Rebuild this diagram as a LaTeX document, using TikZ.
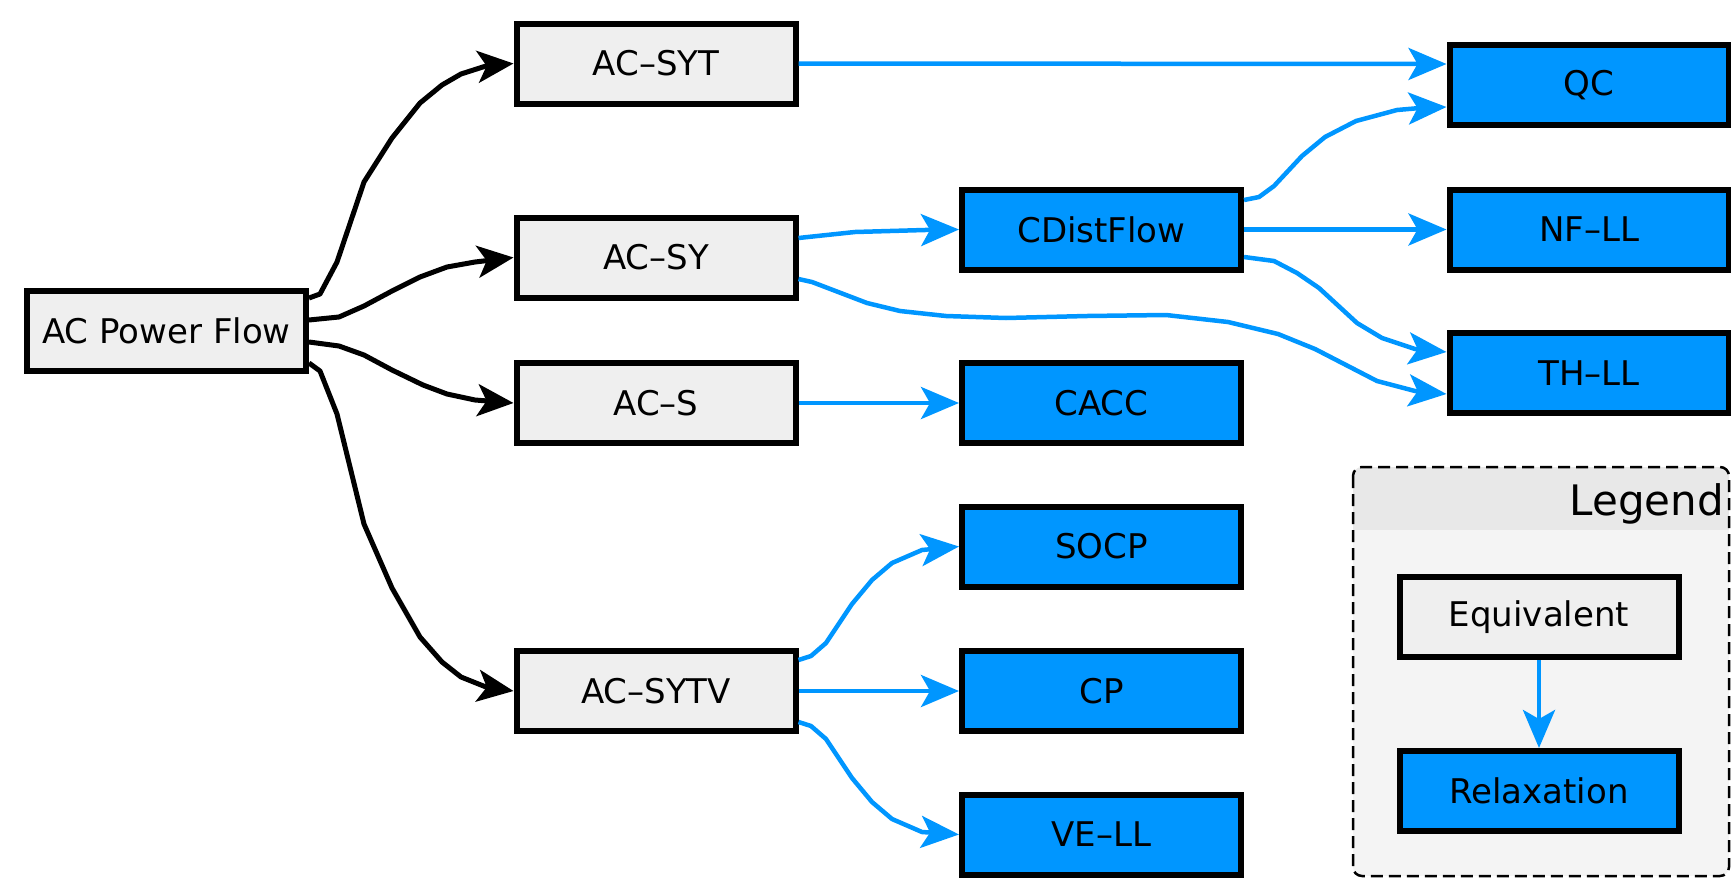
\documentclass[tikz,border=0pt]{standalone}
\usepackage{fontspec}
\setmainfont{DejaVu Sans}
\usetikzlibrary{arrows.meta}
\definecolor{relaxblue}{RGB}{0,150,255}
\definecolor{eqgray}{RGB}{239,239,239}
\definecolor{legendbg}{RGB}{244,244,244}
\definecolor{legendhead}{RGB}{232,232,232}
\begin{document}
\begin{tikzpicture}[x=1pt,y=-1pt,
  box/.style={draw=black, line width=6pt, minimum width=279pt, minimum height=80pt,
    inner sep=0pt, font=\fontsize{34}{40}\selectfont},
  eqbox/.style={box, fill=eqgray},
  rxbox/.style={box, fill=relaxblue},
  eqarrow/.style={draw=black, line width=5pt, line join=round,
    -{Stealth[length=36pt,width=32pt,inset=9pt]}},
  rxarrow/.style={draw=relaxblue, line width=4.5pt, line join=round,
    -{Stealth[length=38pt,width=32pt,inset=9pt]}},
]
\useasboundingbox (0,0) rectangle (1731,878);

% legend frame
\begin{scope}
  \clip[rounded corners=9pt] (1353,467) rectangle (1729,876);
  \fill[legendbg] (1353,467) rectangle (1729,876);
  \fill[legendhead] (1353,467) rectangle (1729,530);
\end{scope}
\draw[dash pattern=on 12pt off 6pt, line width=2.5pt, rounded corners=9pt]
  (1353,467) rectangle (1729,876);
\node[anchor=base east, inner sep=0pt, font=\fontsize{42}{48}\selectfont]
  (legendtitle) at (1724,515) {Legend};

% formulations
\node[eqbox] (acpf) at (166.5,330.5) {AC Power Flow};
\node[eqbox] (syt)  at (656,63.5)  {AC–SYT};
\node[eqbox] (sy)   at (656,257.5) {AC–SY};
\node[eqbox] (s)    at (656,403)   {AC–S};
\node[eqbox] (sytv) at (656,691)   {AC–SYTV};

\node[rxbox] (cdf)  at (1101.5,229.5) {CDistFlow};
\node[rxbox] (cacc) at (1101.5,403)   {CACC};
\node[rxbox] (socp) at (1101.5,546.5) {SOCP};
\node[rxbox] (cp)   at (1101.5,691)   {CP};
\node[rxbox] (vell) at (1101.5,834.5) {VE–LL};

\node[rxbox] (qc)   at (1589,85)    {QC};
\node[rxbox] (nfll) at (1589,229.5) {NF–LL};
\node[rxbox] (thll) at (1589,373)   {TH–LL};

\node[eqbox] (equiv) at (1539,617) {Equivalent};
\node[rxbox] (relax) at (1539,791) {Relaxation};

% equivalent reformulations
\draw[eqarrow] ([yshift=32.5pt]acpf.east) -- (320,294) -- (337,262) -- (364,182)
  -- (392,138) -- (420,103) -- (442,85) -- (461,74) -- (486,66) -- (syt.west);
\draw[eqarrow] ([yshift=10.5pt]acpf.east) -- (339,317) -- (364,306) -- (392,291)
  -- (420,277) -- (447,267) -- (475,262) -- (sy.west);
\draw[eqarrow] ([yshift=-11.5pt]acpf.east) -- (339,346) -- (364,355) -- (392,370)
  -- (423,385) -- (447,394) -- (475,400) -- (s.west);
\draw[eqarrow] ([yshift=-32.5pt]acpf.east) -- (320,371) -- (337,414) -- (364,524)
  -- (392,588) -- (420,637) -- (442,662) -- (461,677) -- (486,687) -- (sytv.west);

% relaxations
\draw[rxarrow] (syt.east) -- ([yshift=21pt]qc.west);
\draw[rxarrow] ([yshift=29.5pt]cdf.east) -- (1259,197) -- (1274,186) -- (1302,156)
  -- (1325,137) -- (1356,121) -- (1397,110) -- (1420,108) -- ([yshift=-22pt]qc.west);
\draw[rxarrow] (cdf.east) -- (nfll.west);
\draw[rxarrow] ([yshift=-27.5pt]cdf.east) -- (1274,261) -- (1297,273) -- (1319,288)
  -- (1357,323) -- (1382,338) -- (1415,349) -- ([yshift=21pt]thll.west);
\draw[rxarrow] ([yshift=19.5pt]sy.east) -- (855,232) -- (925,230) -- (cdf.west);
\draw[rxarrow] ([yshift=-21.5pt]sy.east) -- (812,282) -- (867,303) -- (900,311)
  -- (946,316) -- (1006,318) -- (1087,316) -- (1166,315) -- (1228,322) -- (1278,334)
  -- (1315,349) -- (1377,381) -- (1415,391) -- ([yshift=-21pt]thll.west);
\draw[rxarrow] (s.east) -- (cacc.west);
\draw[rxarrow] ([yshift=31pt]sytv.east) -- (811,656) -- (826,643) -- (852,604)
  -- (872,580) -- (892,563) -- (922,550) -- (socp.west);
\draw[rxarrow] (sytv.east) -- (cp.west);
\draw[rxarrow] ([yshift=-31pt]sytv.east) -- (811,726) -- (826,739) -- (852,778)
  -- (872,802) -- (892,819) -- (922,832) -- (vell.west);

% legend arrow
\draw[rxarrow] (equiv.south) -- (relax.north);
\end{tikzpicture}
\end{document}
